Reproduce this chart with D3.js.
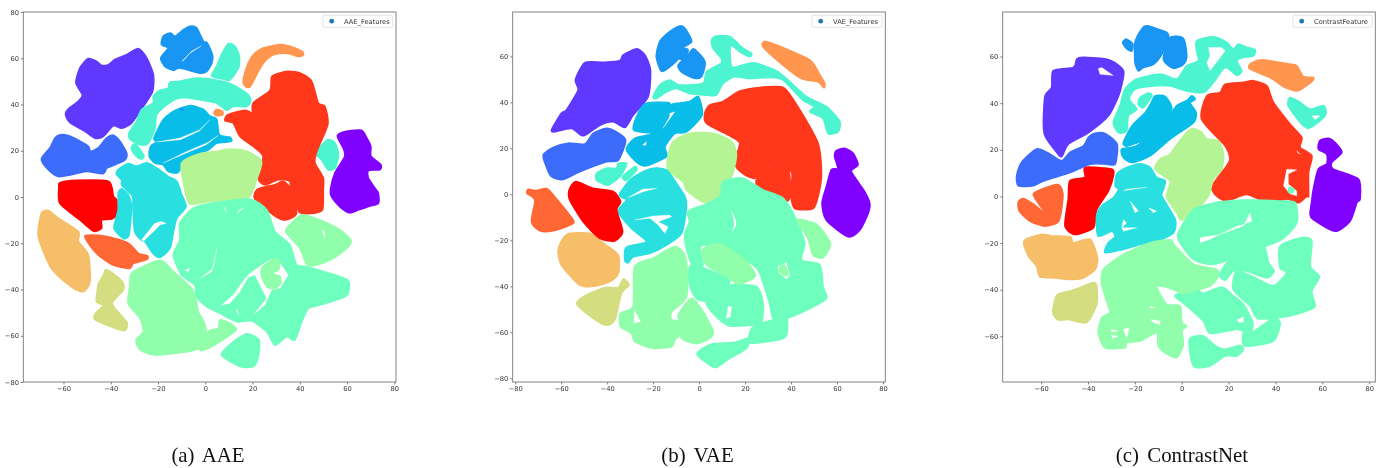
<!DOCTYPE html>
<meta charset="utf-8">
<head>
<style>
  body { margin: 0; background: #fff; }
  svg { display: block; }
  .tick text { font-family: "DejaVu Sans"; font-size: 6.7px; fill: #333; }
  .tick line { stroke: #444; stroke-width: 0.7; }
</style>
</head>
<body>
<div id="my_dataviz"></div>
<script src="https://d3js.org/d3.v7.min.js"></script>
<script>
// rainbow colours, one per class
const classColors = ["#8000ff","#5f39ff","#3c6cf9","#1996f3","#08bee9","#2adfdf","#4cf5d0","#6efebe",
  "#91feab","#b4f494","#d4dd80","#f6be68","#ff964f","#ff6835","#ff381c","#ff0000"];

const panelNames = ["AAE_Features", "VAE_Features", "ContrastFeature"];
const captions = ["(a) AAE", "(b) VAE", "(c) ContrastNet"];

const xTicksA = [-60,-40,-20,0,20,40,60,80], yTicksA = [-80,-60,-40,-20,0,20,40,60,80];
const xTicksB = [-80,-60,-40,-20,0,20,40,60,80], yTicksB = [-80,-60,-40,-20,0,20,40,60];
const xTicksC = [-60,-40,-20,0,20,40,60,80], yTicksC = [-60,-40,-20,0,20,40,60];

// cluster outlines: [class, [[x,y],...]]
const aaeClusters = [
 [1,[[-28.3,64.1],[-24.8,60.1],[-22,52.9],[-22.3,45.7],[-26.2,39.2],[-31.2,32],[-35.4,29.8],[-38.9,30.8],[-43.2,26.2],[-46.7,25.5],[-50.9,28.4],[-57.3,32.3],[-59.1,35.6],[-58,38],[-53.7,41.4],[-52,44.2],[-54.7,49.3],[-53,55.8],[-49.5,59.8],[-46,58.6],[-43.9,56.9],[-41,57.2],[-38.2,59.4],[-33.3,61.5]]],
 [2,[[-61.5,26.9],[-58,26.5],[-53,24.1],[-49.5,21.9],[-48.5,19.7],[-45.3,21.2],[-41.7,25.5],[-38.9,26.7],[-36.1,24.1],[-33.3,19],[-34,16.1],[-38.2,14],[-41.7,12.5],[-43.2,10.1],[-50.2,11.1],[-56.6,9.7],[-62.2,8.9],[-66.4,11.8],[-69.3,16.4],[-65.7,21.2],[-63.6,25.5]]],
 [0,[[55.9,26.5],[59.8,28.4],[66.1,28.8],[68.3,25.5],[70,21.9],[70.1,17.6],[74.2,14],[73.9,11.8],[69,11.5],[69,8.2],[72.2,3.2],[73.2,1.6],[73.2,-2.7],[69.7,-3.9],[65.4,-5.3],[61.2,-6.8],[57,-4.2],[53.5,0.1],[53,3.2],[54.9,10.4],[59.1,17.6],[58.4,21.2]]],
 [3,[[-6.5,73.8],[-3.7,73.1],[-0.8,67.3],[0.8,66.6],[3,61.5],[2.7,57.9],[0.6,54.3],[-2.3,53.6],[-10.7,55.8],[-13.5,54.8],[-17.1,56.5],[-18.8,60.1],[-15.7,64.4],[-18.5,65.9],[-17.8,69.5],[-14.7,70.9],[-12.8,69.5],[-9.3,72.3]]],
 [6,[[9.7,66.3],[12.6,65.1],[14.4,60.8],[14,55.8],[10.4,50.7],[7.6,51],[2.7,52.4],[4.8,56.5],[6.9,61.5]]],
 [6,[[-2.3,51.4],[3.4,50.7],[10.4,49],[14.7,46.7],[18.2,44.2],[19.2,41.4],[17.5,39.2],[11.8,39.2],[9,37.5],[4.8,40.6],[-2.3,42.1],[-6.5,42.8],[-11.4,42.8],[-16.4,39.9],[-20.6,35.6],[-21.3,29.8],[-24.1,23.3],[-27.6,22.6],[-31.6,24.8],[-32.2,27.7],[-29.1,32.7],[-26.9,37.8],[-22,40.6],[-22,43.5],[-19.2,46.1],[-15.7,47.1],[-15,49.6],[-10.7,50],[-6.5,51]]],
 [6,[[-30.5,22.6],[-29,22.3],[-26,17.9],[-27,16.4],[-29,17.6],[-31.2,20.7]]],
 [6,[[52,24.8],[54.9,23.3],[56.3,18.3],[54.9,12.5],[52,11.8],[49.2,16.1],[46.5,19],[49.2,22.3]]],
 [4,[[-5.8,39.5],[-0.8,37.8],[2,34.9],[4.8,33.7],[5.9,26.9],[10.4,25.8],[10.9,24.1],[4.8,23.3],[1.3,20.5],[-10,14.7],[-10.7,11.8],[-12.1,10.4],[-15.7,11.1],[-17.8,14],[-21.3,14.7],[-23.7,17.6],[-23.1,21.9],[-20.6,23.8],[-21.7,25.5],[-17.8,33.4],[-13.5,37],[-9.3,38.8]]],
 [12,[[4.8,37.8],[7.3,37],[7.3,35.6],[4.8,35.2],[3.7,36.3]]],
 [3,[[-10.5,38],[-9.8,38.5],[-9.5,37.5]]],
 [12,[[24.5,64.4],[31.6,65.9],[35.8,65.1],[40.8,63],[41.5,61.5],[39.4,60.8],[34.4,62.2],[28.8,61.5],[24.5,57.9],[21.7,52.9],[18.9,47.6],[16.8,48.1],[16.1,50.7],[18.2,57.9],[21,62.2]]],
 [14,[[34.9,54.3],[40.1,53.6],[45,50],[47.8,40.6],[50.6,39.2],[51.8,31.3],[47.1,19.7],[46.4,14.7],[49.9,8.2],[49.9,3],[49.5,-5.6],[44.3,-7.1],[40.1,-6.8],[38.4,-3.5],[36.1,1.6],[35.8,6.8],[30.9,7.5],[25.2,5.3],[22.4,8.2],[24.5,17.6],[20.3,21.9],[14.7,26.2],[11.8,32],[8.3,33.1],[9.7,35.6],[16.8,37.5],[19.9,36.3],[20.3,40.6],[27.4,46.1],[28.1,51.9],[31.6,53.6]]],
 [14,[[33,6.8],[35.5,4.6],[36.1,3],[38.6,-7.1],[33.7,-9.9],[29.5,-8.2],[21,-1],[21.7,3],[25.2,4.3],[29.5,5.3]]],
 [9,[[10.4,20.7],[17.5,19.7],[23.8,15.4],[21.7,7.5],[19.6,1.7],[16.8,-0.9],[2,-1.9],[-6.5,-3],[-8.6,3.2],[-10,14.7],[-2.3,18.7],[4.8,19.7]]],
 [15,[[-61.5,6.1],[-55.1,7.2],[-41,6.8],[-38.9,0.3],[-37.5,-1.3],[-37.5,-7.1],[-39.6,-9.5],[-43.9,-9.9],[-43.9,-13.5],[-47.4,-14.7],[-53,-9.9],[-61.5,-2.7],[-61.9,4.6]]],
 [5,[[-36.8,11.8],[-32.6,14.4],[-29.1,13.3],[-24.8,14.7],[-20.6,12.5],[-15.7,8.9],[-12.1,6.8],[-10,1],[-8.2,-4.2],[-12.1,-9.2],[-13.5,-15],[-15,-22.2],[-19.2,-26.1],[-22,-24.4],[-25.5,-19.3],[-27,-18.6],[-29.8,-15],[-30.5,-5.6],[-30.7,0.1],[-32.6,2.4],[-35.4,5.3],[-35.4,7.5],[-37.5,9.7]]],
 [5,[[-35.4,3.5],[-32.6,1],[-31.2,-4.2],[-32,-14.3],[-32.6,-17.1],[-34.7,-17.9],[-38.6,-13.5],[-36.8,-5.6],[-36.8,1.6]]],
 [7,[[-5.1,-4.9],[3.4,-2.7],[18.9,-1],[26,-5.6],[29.5,-15],[35.8,-20.7],[38.6,-29.4],[42.9,-30.1],[59.8,-35.6],[60.5,-41.6],[58.4,-43.4],[48.5,-46.7],[43.6,-48.1],[40.8,-53.9],[37.9,-61.8],[34.4,-60.4],[29.5,-64],[26,-58.2],[19.6,-53.5],[13.3,-53.9],[6.2,-50.3],[0.6,-47.4],[-3.7,-43.1],[-4.4,-38],[-10,-33.7],[-13.5,-25.1],[-10.7,-18.6],[-10.7,-11.4]]],
 [8,[[-18.5,-27.5],[-13.5,-32.3],[-5.8,-39.5],[-3.7,-45.2],[-3,-49.6],[-0.1,-55.3],[0.3,-63.5],[-3.7,-65.9],[-10.7,-67.3],[-21.3,-68.3],[-27.6,-66.1],[-29.3,-61.8],[-26.2,-58.2],[-27.6,-52.4],[-32.6,-46],[-31.9,-38.8],[-31.2,-33],[-24.8,-29.4]]],
 [8,[[-2.3,-66.1],[1.3,-58.2],[5.5,-56.8],[6.2,-53.2],[10.4,-54.6],[13,-57.5],[6.2,-62.5],[1.3,-65.4]]],
 [7,[[17.5,-59.2],[22.7,-61.8],[22.4,-69],[20.3,-73.3],[14.7,-73.3],[6.9,-68.3],[11.1,-63.3]]],
 [8,[[40.8,-7.8],[48.5,-10],[57,-14.3],[61.5,-18.6],[60.5,-21.5],[54.2,-26.5],[47.1,-29.4],[42.9,-29],[40.1,-22.2],[34.1,-15],[36.5,-11.4]]],
 [11,[[-66.4,-5.9],[-62.2,-9.2],[-53.7,-15],[-53.7,-19.3],[-49.5,-25.1],[-48.8,-36.6],[-51.6,-40.9],[-56.6,-38.8],[-65.1,-30.8],[-70.6,-17.1],[-69.3,-7.1]]],
 [13,[[-50.9,-16.9],[-41.7,-17.1],[-32.6,-20],[-28.3,-24.4],[-24.5,-25.4],[-24.8,-27],[-30.5,-28.7],[-31.9,-30.8],[-39,-29.4],[-46,-24.4]]],
 [10,[[-42.3,-31.6],[-40.2,-32.3],[-35.2,-36.6],[-34.7,-40.2],[-39.4,-46],[-35.2,-51.7],[-33,-54.6],[-34.7,-57.8],[-46.4,-53.2],[-46.4,-50.3],[-43,-46.7],[-46,-45.3],[-45.3,-38],[-43,-33.7]]]
];
// white slits and holes inside the clusters
const aaeGaps = [
 [[-9.6,58.6],[-6.5,62.2],[-1.6,65.4],[-5.8,63],[-9.6,59]],
 [[-20.6,23.8],[-10.7,25.5],[-2.3,29.1],[2,33.4],[-2.5,28.5],[-10.5,24.8]],
 [[-17.8,14.7],[-7.9,19.7],[0.6,23.3],[5.5,26.6],[0.4,22.6],[-8,19]],
 [[-27,-18.6],[-21.5,-11.5],[-18.7,-10.5],[-16.5,-11.5],[-19,-12],[-26,-19]],
 [[30.2,-26.5],[26.7,-27.5],[18.9,-33],[16.8,-35.2],[11.8,-42.4],[6.9,-46.7],[10.4,-46],[14.7,-40.9],[18.2,-34.7],[21,-33.7],[22.4,-36.6],[26,-43.8],[20.6,-50.7],[25.2,-46.7],[28.1,-40.2],[31.6,-39.5],[35.1,-33.7]],
 [[4.8,-22.2],[3.4,-30.8],[-2.3,-35.2],[2.7,-32.3],[4.8,-23]],
 [[7.9,-4.2],[9,-7],[8.4,-5]],
 [[13.5,-7],[16.4,-4.6],[14.5,-5.6]],
 [[-8.6,-31.6],[-6.5,-30.8],[-7.2,-32.3]],
 [[12.9,-48.8],[14.2,-51],[13.6,-49]],
 [[49.5,-14.3],[50.6,-17.9],[50.4,-15]]
];
const aaeInner = [
 [8,[[29.5,-26.5],[31.4,-28],[31,-31.6],[28.1,-33],[31.6,-34.4],[32,-37.3],[29.5,-39.8],[26,-38.8],[23.8,-34.4],[23.8,-30.8],[26,-28.7]]]
];

const vaeClusters = [
 [1,[[-27.2,63.2],[-23.6,60.6],[-21.2,54.1],[-22.2,42.5],[-28.7,34.5],[-32.3,29.1],[-37.4,31.6],[-43.2,30.1],[-50.4,25.5],[-55.5,28.7],[-63.5,27.2],[-63.9,28.7],[-59.9,35.2],[-57.7,36.7],[-52.6,45.4],[-53.8,49.7],[-49.7,57.2],[-41.7,57.4],[-34.5,58.1],[-33,60.6]]],
 [2,[[-40.3,28.7],[-36.7,27.5],[-32,23.6],[-35.2,14.9],[-40.3,14.2],[-51.9,9.9],[-59.1,6.5],[-64.2,7.7],[-66.4,12],[-67.8,17.1],[-63.5,20.4],[-57,22.2],[-49.7,21.9],[-46.1,26.5]]],
 [3,[[-8.4,73.2],[-6.2,72.2],[-3.3,66.4],[-7.7,63.5],[-9.1,59.1],[-12.8,55.5],[-16.4,53.6],[-18.6,59.9],[-17.1,66.4],[-12.8,70.7]]],
 [3,[[-7.2,63.5],[-4.8,62.8],[-6.2,59.1],[-9.1,59.1],[-9.6,61.3]]],
 [3,[[-2.3,63.2],[2.5,57.7],[1,51.2],[-2.6,50.7],[-7.7,53.3],[-9.1,56.2],[-4.8,60.6]]],
 [6,[[7.5,68.8],[13.3,68.6],[19.1,63.5],[22.8,61.3],[22,59.9],[17.7,62],[13.6,64.9],[14.1,55.5],[19.1,56.2],[23.5,57.2],[29.3,55.5],[34.3,53.3],[39.4,49],[46.7,42.5],[55.4,38.1],[61.2,31.6],[60.4,27.2],[56.1,26.5],[53.9,33],[48.1,35.9],[50.3,38.1],[45.2,41],[36.5,49.7],[30.7,50.9],[22,50.4],[15.5,51.2],[10.4,48.3],[7.5,43.2],[3.2,43.2],[-4.1,43.9],[-9.9,46.1],[-14.2,44.6],[-18.6,41.7],[-20,42.5],[-17.1,47.5],[-12.8,49.7],[-8.4,47.5],[1.7,48.3],[3.2,53.3],[9.7,57],[9.7,59.1],[6.1,63.5],[5.4,67.1]]],
 [6,[[-35.2,13.5],[-31.6,13.5],[-32.3,11.3],[-34.5,7.7],[-39.6,4.1],[-44.6,6.2],[-44.6,9.1],[-40.3,11.3],[-35.9,11.3]]],
 [6,[[-28,12],[-27.2,10.6],[-31.6,6.2],[-33.3,7.7]]],
 [4,[[-22.9,39.6],[-13.5,39.9],[-12,38.1],[-11.3,39.3],[-4.1,40.3],[-0.4,42.5],[1.3,34.5],[-5.5,27.2],[-10.6,26.5],[-14.9,20.7],[-14.2,16.4],[-22.9,12.5],[-26.5,13.5],[-31.6,19.3],[-28,24.3],[-19.3,26.5],[-28.4,27.9],[-26.5,35.2]]],
 [12,[[28.6,66.4],[33.6,64.9],[48.1,58.4],[52.5,51.9],[54.6,48.3],[54.3,46.4],[51.7,49],[44.5,50.4],[36.5,56.2],[27.8,64.2]]],
 [14,[[32.2,46.8],[37.2,46.1],[43.8,36.7],[51.7,22.2],[53.2,9.1],[52,0.4],[49.6,-6.1],[41.6,-6.1],[39.9,-0.3],[40.1,3.3],[40.1,9.9],[32.2,12],[28.6,11.3],[24.2,7],[19.1,9.1],[15.5,13.5],[17.7,22.2],[14.1,25.1],[3.2,30.9],[2.5,35.2],[4.6,38.8],[10.4,40.3],[17,44.6],[23.5,46.1]]],
 [14,[[28.6,10.9],[38,11.6],[39.4,7.7],[39.4,-1.7],[35.8,-3.6],[30.7,-1.7],[25.7,1.9],[24.9,6.2]]],
 [0,[[63.3,20],[67,17.8],[69.1,12.8],[66.2,9.9],[72,1.2],[74.2,-3.9],[73.5,-8.3],[69.9,-15.5],[64.8,-18.4],[55.4,-11.2],[53.5,-3.9],[55.4,3.3],[57.5,10.6],[60.4,11.3],[59,16.4],[59.7,19]]],
 [9,[[-4.1,26.5],[6.1,26.5],[14.1,23],[16.2,17.1],[14.1,7.7],[9.7,4.8],[9,-1],[4.6,-3.9],[0.3,-2.5],[-5.5,1.9],[-7,5.5],[-13.5,10.6],[-13.5,16.4],[-11.3,22.9]]],
 [5,[[-20,11.3],[-14.2,10.6],[-9.9,4.8],[-6.2,-1],[-5.5,-5.4],[-7.7,-17],[-14.2,-22],[-21.4,-25.6],[-28.7,-27.1],[-30.9,-29.7],[-32.3,-28.6],[-31.6,-23],[-22.9,-20.6],[-29.4,-14.8],[-35.2,-7.5],[-31.6,-2.5],[-34.2,-1],[-34.5,0.4],[-30.1,6.2],[-25.8,9.1]]],
 [7,[[19.1,7],[27.8,1.9],[36.5,-1.7],[42.3,-11.2],[45.9,-21.3],[44.5,-28.6],[52.5,-30.7],[53.9,-40.1],[55.4,-45.2],[48.1,-49.6],[38.7,-53.6],[32.2,-53.9],[30.7,-47.4],[26.4,-34.3],[23.5,-30.7],[10.4,-22],[15.5,-15.5],[16.5,-11.9],[13.3,-6.1],[1.7,-5.4],[9,-1],[10.4,5.5]]],
 [7,[[-4.8,-7.5],[3.2,-4.6],[12.6,-6.1],[14.8,-12.6],[13.3,-17],[9,-22],[1.7,-22],[0.3,-24.2],[1.7,-30.7],[-2.6,-31.4],[-5.5,-23.5],[-6.2,-17],[-4.1,-11.9]]],
 [7,[[-4.1,-31.4],[0.3,-31.4],[13.3,-37.2],[9.7,-43],[9,-45.6],[3.9,-46.7],[-1.2,-45.2],[-4.1,-39.4]]],
 [7,[[10.4,-41.6],[14.1,-39.4],[24.9,-40.1],[27.8,-47.4],[27.1,-56.1],[23.5,-56.8],[13.3,-57.2],[7.5,-53.2],[3.2,-47.4],[9.7,-45.2]]],
 [7,[[32.2,-54.6],[38,-53.9],[38,-61.2],[34.3,-63.3],[22,-64.5],[22.8,-58.3],[26.4,-56.5]]],
 [7,[[21.3,-62.6],[20.6,-67],[13.3,-71.3],[7.5,-75.2],[4.6,-74.2],[-0.9,-69.4],[5.4,-65.1],[14.8,-64.5]]],
 [8,[[9,-21.6],[19.9,-28.6],[24.2,-34.3],[23.5,-36.5],[17,-39],[13.3,-36.5],[3.2,-30.7],[1.4,-24.2]]],
 [8,[[43,-10.9],[50.3,-12.6],[54.6,-17],[57.1,-22],[53.9,-27.5],[49.6,-26.4],[47.4,-19.1],[43,-12.6]]],
 [8,[[-10.6,-22.7],[-5.8,-27.8],[-5.5,-44.5],[-12,-51],[-12,-54.6],[-7.7,-55.3],[-7.2,-59.7],[-10.6,-63.3],[-12,-66.2],[-20,-66.9],[-28,-64],[-29.4,-60.4],[-34.2,-57.5],[-34.2,-51.7],[-28.7,-48.8],[-28,-31.4],[-20,-27.8]]],
 [8,[[-3.3,-45.2],[1.7,-51],[6.1,-59.7],[4.6,-62.6],[-1.2,-64.9],[-7.7,-62.6],[-7.2,-57.3],[-9.1,-52.6]]],
 [10,[[-33,-36.9],[-30.4,-39.4],[-33.8,-43],[-36.7,-54.6],[-41,-56.8],[-49,-51.7],[-53.3,-47.4],[-49,-43.8],[-41,-40.6],[-35.2,-40.6]]],
 [11,[[-56.2,-17],[-47.5,-17],[-41.7,-21.3],[-35.2,-26.4],[-35.2,-34.3],[-38.8,-37.9],[-45.4,-39.9],[-51.9,-39.4],[-59.9,-30.7],[-61.3,-24.2],[-59.1,-19.1]]],
 [15,[[-53.6,5.5],[-46.1,2.6],[-37.4,1.2],[-34.2,-3.2],[-35.9,-6.8],[-33.3,-16.2],[-36.7,-20.2],[-43.2,-19.1],[-50.4,-11.9],[-56.2,-2.5],[-56.5,1.9]]],
 [13,[[-74.3,2.2],[-71.4,1.6],[-66.4,2.5],[-63.5,-0.3],[-54.8,-11.2],[-56.2,-13.3],[-63.5,-15.8],[-69.3,-15.8],[-72.9,-11.9],[-71.4,-2.5],[-74.8,0.4]]]
];
const vaeGaps = [
 [[-12.8,35.2],[-10.6,35.9],[-15.7,28.7],[-12.8,33.8]],
 [[-24.6,21.5],[-22.9,22.9],[-23.2,21.4]],
 [[-31,-1.5],[-24.5,2.3],[-18.5,2.6],[-24,1.2]],
 [[-28,-11.2],[-20,-9.4],[-12.8,-9],[-12,-9.7],[-17.8,-11.9],[-13.5,-14.1],[-14.9,-17],[-17.8,-13.3],[-21.4,-10.4]],
 [[34.3,-31.4],[38,-29.7],[39.4,-35],[38,-36.9],[34.8,-34.3]],
 [[12.6,-48.8],[14.1,-48.8],[13.6,-53.2],[11.9,-53.9]],
 [[-28,-50.6],[-25.5,-55.4],[-28.4,-56.1]]
];
const vaeInner = [
 [8,[[35.1,-31.7],[37.2,-30.7],[38.7,-34.6],[37.2,-35.5],[35.1,-33.6]]]
];

const contrastClusters = [
 [1,[[-42,59.6],[-30.6,58.4],[-24.9,53.9],[-25.6,48.1],[-27,43.1],[-31.3,34.6],[-39.8,27.4],[-48.4,22.4],[-51.2,17.1],[-53.3,18.9],[-58.3,26],[-59,31.7],[-58.3,43.1],[-55.5,46.7],[-54.8,53.9],[-46.2,55.3],[-44.8,58.9]]],
 [2,[[-37.1,27],[-32.8,27],[-27.6,22.4],[-28.4,13.9],[-32,13.9],[-39.1,13.9],[-47.6,10.3],[-59,6.7],[-63.3,4.6],[-69.7,4.6],[-70.4,8.9],[-68.3,14.6],[-61.9,20.3],[-56.2,18.1],[-51.2,15.3],[-47.6,18.9],[-41.9,21.7],[-39.8,25.3]]],
 [3,[[-14.9,73.1],[-6.4,70.3],[-5.7,67.4],[-8.5,61],[-12.1,56.7],[-16.4,55.3],[-18.5,53.9],[-19.9,57.4],[-19.9,66],[-17.1,71.7]]],
 [3,[[-5,68.1],[0.7,67.7],[2.1,60.3],[0.7,56.7],[-3.6,55],[-7.8,58.9]]],
 [3,[[-23.5,67.4],[-20.9,65.3],[-21.3,62.4],[-23.5,63.4],[-25.2,66]]],
 [6,[[6.4,66.7],[13.5,68.4],[19.2,66],[22,63.1],[24.2,65.3],[27.7,63.9],[31.3,62.9],[30.6,60.3],[26.3,59.6],[23.5,58.1],[25.6,53.9],[23.5,52],[18.5,55.3],[13.5,48.9],[9.2,44.6],[2.1,45.3],[-5,47.4],[-12.1,47.4],[-19.9,46],[-22.5,41.7],[-19.2,37.4],[-22.8,34.6],[-23.5,28.1],[-27,27.4],[-29.2,31.7],[-26.3,38.9],[-24.2,46],[-19.2,50.3],[-9.2,52.4],[-2.1,50.3],[2.1,56],[7.1,58.1],[6.4,62.4]]],
 [6,[[-14.2,44.3],[-12.8,43.1],[-16.4,38.1],[-18.5,39.6],[-17.8,42.4]]],
 [6,[[46.2,42.4],[50.5,40.3],[54.8,37.4],[60.5,38.9],[61.5,35.4],[58.3,31.9],[54.1,29.3],[50.5,31.9],[45.5,38.9]]],
 [4,[[-11.4,43.1],[-7.1,42.9],[-4.3,37.9],[-7.1,30.1],[-13.5,25.1],[-19.2,23],[-23.5,21.6],[-24.9,23],[-21.3,30.1],[-15.6,35.9],[-13.2,39.7]]],
 [4,[[4.3,43.1],[5.7,41.7],[3.6,40],[6.1,36],[5,31.7],[-5,24.6],[-13.5,17.4],[-21.3,14.6],[-24.9,16.7],[-25.6,20.3],[-19.2,21.7],[-9.2,29.6],[-5.7,33.9],[-2.1,38.9],[2.1,41]]],
 [12,[[34.1,58.6],[46.2,56.7],[49.1,56],[51.9,51.4],[56.2,51],[55.5,49.3],[52.6,47.1],[49.1,45.3],[43.4,47.1],[37.7,51],[29.2,54.6],[29.2,56.7]]],
 [14,[[30.6,49.6],[36.3,47.4],[39.1,40.3],[46.2,31],[51.2,25.3],[50.5,21],[55.5,17.4],[54.1,10.3],[54.1,0.3],[53.3,0.1],[49.8,-2.7],[44.8,-1],[37.7,-3],[27.7,0.9],[19.2,-2],[14.2,0.9],[13.1,4.6],[19.2,13.1],[20.6,16],[18.5,21.7],[8.5,33.1],[10.7,43.1],[16.4,44.6],[18.5,48.1],[26.3,48.9]]],
 [0,[[62.6,24.9],[65.4,23.1],[68.3,18.9],[64,14.6],[64.7,11.7],[75.4,7.4],[76.1,-1.1],[74.7,-2.7],[71.8,-10.6],[65.4,-14.9],[56.2,-9.9],[54.8,-7.7],[55.5,-2],[56.2,3.1],[58.3,11.7],[61.9,13.9],[61.9,18.1],[58.3,20.3],[59,23.9]]],
 [9,[[5,29.1],[8.5,27.4],[10.7,24.6],[15.6,23.9],[17.8,18.1],[17.1,11.7],[13.5,7.4],[11.4,0.3],[7.8,-4.1],[0,-10.1],[-2.1,-7],[-6.4,-0.6],[-5.7,3.1],[-5,6.7],[-11.4,11.7],[-9.2,16],[-5,18.1],[-0.7,23.9],[2.8,28.1]]],
 [15,[[-41.2,12.4],[-29.9,11.7],[-29.2,8.9],[-31.3,2.4],[-36.3,-5.6],[-37.7,-13.4],[-45.5,-16.3],[-49.8,-12.7],[-48.4,-1.3],[-47.7,6.7],[-41.3,8.1]]],
 [13,[[-53.3,5],[-51.2,3.1],[-50.8,-1.3],[-52.6,-10.6],[-58.3,-12.7],[-64.7,-10.6],[-69.3,-6.3],[-69.7,-2.4],[-67.6,-1],[-63.3,-3.4],[-56.9,-8.4],[-60.5,-3.9],[-63.3,0.9],[-61.2,2.4]]],
 [5,[[-17.8,13.9],[-13.5,12.4],[-10.7,8.1],[-7.1,6.7],[-7.8,3.1],[-8.5,0.1],[-2.8,-9.9],[-3.6,-15.6],[-10.7,-19.1],[-17.8,-20.6],[-24.9,-22.7],[-32.7,-24.1],[-31.3,-19.9],[-28.4,-17.3],[-29.9,-14.9],[-35.6,-17],[-36.3,-8.4],[-34.1,-4.1],[-29.2,-0.6],[-27,3],[-28.4,4.6],[-27.7,9.6],[-23.5,12.4]]],
 [7,[[6.4,-4.9],[16.4,-2.4],[27.7,-1.6],[42,-2],[48.4,-2.7],[49.1,-11.3],[42.7,-18.4],[32,-22.7],[22,-26.3],[13.5,-29.1],[5,-27],[-1.8,-17.3],[2.8,-8.4]]],
 [7,[[34.9,-21],[37,-28.4],[39.4,-32],[36.3,-34.9],[27.7,-32],[22,-32],[18.5,-35.9],[16.1,-33.4],[20.6,-27],[27.7,-23.4]]],
 [7,[[51.2,-17.7],[55.5,-19.1],[54.8,-29.9],[58.7,-34.4],[55.5,-40.6],[56.9,-47],[53.3,-49.1],[45.5,-51.3],[32.7,-52.4],[29.2,-47],[22,-39.9],[23.5,-32],[31.3,-34.9],[39.1,-38.4],[44.8,-32.7],[42,-30.6],[42,-21.3]]],
 [7,[[-2.8,-42.4],[6.4,-39.9],[9.2,-41.6],[17.1,-38.9],[22,-42.7],[26.3,-46.3],[30.3,-54.1],[29.2,-58.4],[23.5,-57],[12.1,-58.7],[9.2,-53.4],[1.4,-46.3]]],
 [7,[[39.1,-52],[42,-54.1],[39.1,-62],[27,-64.1],[26.3,-58.4],[29.9,-58.4],[36.3,-54.1]]],
 [7,[[9.2,-59.9],[14.2,-64.1],[18.5,-65.6],[24.9,-63.9],[26.3,-65.6],[23.5,-68.4],[18.5,-68.4],[12.1,-72.7],[5,-72.7],[3.3,-61.3]]],
 [8,[[-5,-18.7],[-2.8,-21.3],[5,-29.1],[14.9,-31.3],[15.2,-34.9],[12.1,-38.4],[5,-40.6],[0.7,-41.6],[-5.7,-39.1],[-9.2,-38.4],[-10.7,-39.1],[-6.4,-46.3],[-0.7,-47],[0,-54.1],[2.1,-55.6],[0,-57.7],[0.7,-63.4],[-2.1,-69.1],[-7.1,-67],[-10,-64.1],[-10.7,-58.4],[-17.8,-62],[-23.5,-62.7],[-24.2,-64.9],[-32.7,-64.9],[-35.6,-58.4],[-34.1,-52],[-30.6,-49.9],[-31.3,-47],[-34.1,-37.7],[-33.4,-31.3],[-24.9,-24.9],[-13.5,-19.9]]],
 [10,[[-43.4,-39.1],[-37.7,-37],[-36.3,-38.4],[-36.3,-46.3],[-40.6,-54.1],[-48.4,-52.7],[-52.6,-53],[-55,-49.9],[-53.3,-42.4],[-47.6,-40.6]]],
 [11,[[-59.7,-16.3],[-55.5,-17],[-47.6,-17.4],[-46.2,-19.9],[-39.1,-18.4],[-36,-26.3],[-37,-31.3],[-42,-34.9],[-48.4,-35.6],[-54.1,-34.9],[-60.5,-34.4],[-61.9,-29.9],[-65.4,-25.6],[-67.3,-19.1]]]
];
const contrastGaps = [
 [[-35.6,54.9],[-34.1,55.3],[-29.2,51.9],[-34.9,52.4]],
 [[11.4,63.9],[17.1,63.9],[18.5,62.4],[16.4,59.6],[12.1,53.9],[10.7,57.4],[12.1,60.3]],
 [[55.5,34.6],[59,34.6],[56.9,32.9]],
 [[44.8,11.7],[49.1,11.4],[45.5,9.6],[45.5,5.3],[49.1,2.3],[49.1,0.3],[46.2,1],[43.4,4.6]],
 [[49.1,19.6],[50.5,18.1],[49.6,18.6]],
 [[-25.6,-13.4],[-19.2,-13.4],[-24.9,-14.9]],
 [[-24.9,-10],[-23.5,-11.3],[-25.6,-13.4]],
 [[-22,-2],[-18.5,-6.3],[-19.9,-7]],
 [[-14.2,-4.9],[-10.7,-6.3],[-12.1,-7]],
 [[-24.9,2.4],[-15,3.9],[-23.5,3.1]],
 [[7.8,-19.9],[12.1,-18.4],[22,-13.4],[29.9,-10.6],[29.2,-7],[26.3,-12.7],[16.4,-16.3],[7.8,-17.7]],
 [[23.5,-53],[26.3,-51.6],[26.3,-53.9],[24.6,-54.1]],
 [[-30,-57],[-27.2,-57.7],[-30,-58.2]],
 [[-30,-59.5],[-27.2,-60],[-29.5,-60.8]],
 [[-24.9,-57],[-22.3,-56.3],[-23.5,-60.6]],
 [[-13.5,-47],[-11.3,-47.9],[-13.5,-47.9]],
 [[-13.5,-52.7],[-9.2,-53.4],[-9.2,-54.9],[-12.1,-54.1]]
];
const contrastInner = [
 [7,[[46,4],[48,3],[47,1.5],[45.5,2]]]
];

// one entry per subplot
const panels = [
  {clusters: aaeClusters, gaps: aaeGaps, inner: aaeInner, xTicks: xTicksA, yTicks: yTicksA,
   xDomain: [-77, 80.7], yDomain: [-80, 80], left: 23.3, right: 396, cap: 208, legendLeft: 323},
  {clusters: vaeClusters, gaps: vaeGaps, inner: vaeInner, xTicks: xTicksB, yTicks: yTicksB,
   xDomain: [-81.1, 81], yDomain: [-81.6, 79.3], left: 512.7, right: 885.3, cap: 697.5, legendLeft: 812},
  {clusters: contrastClusters, gaps: contrastGaps, inner: contrastInner, xTicks: xTicksC, yTicks: yTicksC,
   xDomain: [-76.4, 82.6], yDomain: [-79.6, 79.1], left: 1002.7, right: 1375.3, cap: 1182, legendLeft: 1293}
];

const top_ = 12, bottom = 382;

const svg = d3.select("#my_dataviz").append("svg")
  .attr("width", 1383)
  .attr("height", 468);

panels.forEach(function (p, i) {
  const x = d3.scaleLinear().domain(p.xDomain).range([p.left, p.right]);
  const y = d3.scaleLinear().domain(p.yDomain).range([bottom, top_]);
  // rounded outlines for the clusters, straight ones for the thin slits
  const blob = d3.line().x(d => x(d[0])).y(d => y(d[1])).curve(d3.curveCardinalClosed.tension(0.3));
  const slit = d3.line().x(d => x(d[0])).y(d => y(d[1])).curve(d3.curveLinearClosed);

  // opacity just under 1 keeps the small text grey instead of colour fringed
  const g = svg.append("g").style("opacity", 0.999);

  // clusters
  g.selectAll("path.cluster").data(p.clusters).join("path")
    .attr("class", "cluster")
    .attr("d", d => blob(d[1]))
    .attr("fill", d => classColors[d[0]])
    .attr("stroke", d => classColors[d[0]])
    .attr("stroke-width", 1.8)
    .attr("stroke-linejoin", "round");

  // slits and holes
  g.selectAll("path.gap").data(p.gaps).join("path")
    .attr("class", "gap")
    .attr("d", d => slit(d))
    .attr("fill", "#fff")
    .attr("stroke", "#fff")
    .attr("stroke-width", 0.3)
    .attr("stroke-linejoin", "round");

  // small clusters sitting inside holes
  g.selectAll("path.inner").data(p.inner).join("path")
    .attr("class", "inner")
    .attr("d", d => blob(d[1]))
    .attr("fill", d => classColors[d[0]])
    .attr("stroke", d => classColors[d[0]])
    .attr("stroke-width", 1.3)
    .attr("stroke-linejoin", "round");

  // axes
  const xAxis = g.append("g").attr("transform", `translate(0, ${bottom})`)
    .call(d3.axisBottom(x).tickValues(p.xTicks).tickSize(2.4).tickPadding(2));
  const yAxis = g.append("g").attr("transform", `translate(${p.left}, 0)`)
    .call(d3.axisLeft(y).tickValues(p.yTicks).tickSize(2.4).tickPadding(2));
  xAxis.select(".domain").remove();
  yAxis.select(".domain").remove();

  // frame
  g.append("rect")
    .attr("x", p.left).attr("y", top_)
    .attr("width", p.right - p.left).attr("height", bottom - top_)
    .attr("fill", "none").attr("stroke", "#777").attr("stroke-width", 0.9);

  // legend
  const legendRight = p.right - 3.4;
  g.append("rect")
    .attr("x", p.legendLeft).attr("y", 15.3)
    .attr("width", legendRight - p.legendLeft).attr("height", 12)
    .attr("rx", 1).attr("fill", "#fff").attr("stroke", "#d8d8d8").attr("stroke-width", 0.7);
  g.append("circle")
    .attr("cx", p.legendLeft + 8.7).attr("cy", 21.2).attr("r", 2.4).attr("fill", "#1f77b4");
  g.append("text")
    .attr("x", p.legendLeft + 21).attr("y", 23.6)
    .style("font-family", "DejaVu Sans").style("font-size", "6.7px").style("fill", "#333")
    .text(panelNames[i]);

  // caption
  g.append("text")
    .attr("x", p.cap).attr("y", 462)
    .attr("text-anchor", "middle")
    .style("font-family", "Liberation Serif").style("font-size", "20.9px").style("word-spacing", "3px").style("fill", "#111")
    .text(captions[i]);
});
</script>
</body>
